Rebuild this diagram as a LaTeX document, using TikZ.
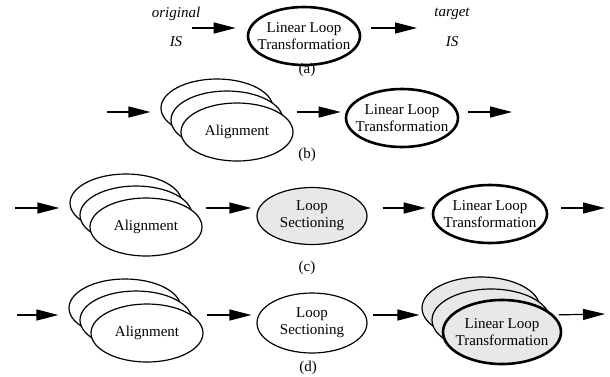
\documentclass[tikz,border=0pt]{standalone}
\usepackage{fontspec}
\setmainfont{Liberation Serif}
\usetikzlibrary{arrows.meta,shapes.geometric}

\begin{document}
\begin{tikzpicture}[
  x=1pt, y=-1pt,
  ell/.style={ellipse, draw, fill=white, line width=1.2pt, minimum width=112pt, minimum height=58pt, inner sep=0pt},
  heavy/.style={line width=2.6pt},
  dotfill/.style={fill=black!9},
  txt/.style={font=\fontsize{15}{17}\selectfont, align=center, inner sep=0pt},
  itxt/.style={txt, font=\fontsize{15}{17}\selectfont\itshape},
  arr/.style={-{Triangle[length=22pt,width=11pt]}, line width=1.2pt}
]
\useasboundingbox (0,0) rectangle (610,376);

% (a)
\node[itxt] (origt) at (176,14) {original};
\node[itxt] (origis) at (176,42) {IS};
\node[ell, heavy] (llta) at (304,36) {};
\node[txt] (lltat) at (llta) {Linear Loop\\Transformation};
\node[itxt] (targt) at (452,14) {target};
\node[itxt] (targis) at (452,42) {IS};
\node[txt] (capa) at (307,70) {(a)};
\coordinate (ina) at (192,28);
\coordinate (outa) at (417,28);
\draw[arr, shorten >=11pt] (ina) -- (llta.west |- ina);
\draw[arr, shorten <=10pt] (llta.east |- ina) -- (outa);

% (b)
\node[ell] (alignb3) at (217,108) {};
\node[ell] (alignb2) at (227,120) {};
\node[ell] (alignb) at (237,132) {};
\node[txt] (alignbt) at (alignb) {Alignment};
\node[ell, heavy] (lltb) at (402,118) {};
\node[txt] (lltbt) at (lltb) {Linear Loop\\Transformation};
\node[txt] (capb) at (307,155) {(b)};
\coordinate (inb) at (107,112);
\coordinate (outb) at (512,112);
\draw[arr, shorten >=10pt] (inb) -- (alignb3.west |- inb);
\draw[arr, shorten <=3pt, shorten >=4pt] (alignb.east |- inb) -- (lltb.west |- inb);
\draw[arr, shorten <=9pt] (lltb.east |- inb) -- (outb);

% (c)
\node[ell] (alignc3) at (126,203) {};
\node[ell] (alignc2) at (136,215) {};
\node[ell] (alignc) at (146,227) {};
\node[txt] (aligncct) at (alignc) {Alignment};
\node[ell, dotfill, minimum width=110pt, minimum height=57pt] (secc) at (312,216) {};
\node[txt] (secct) at (secc) {Loop\\Sectioning};
\node[ell, heavy, minimum width=114pt] (lltc) at (490,214) {};
\node[txt] (lltct) at (lltc) {Linear Loop\\Transformation};
\node[txt] (capc) at (307,268) {(c)};
\coordinate (inc) at (15,208);
\coordinate (outc) at (605,208);
\draw[arr, shorten >=10pt] (inc) -- (alignc3.west |- inc);
\draw[arr, shorten <=3pt, shorten >=5pt] (alignc.east |- inc) -- (secc.west |- inc);
\draw[arr, shorten <=15pt, shorten >=6pt] (secc.east |- inc) -- (lltc.west |- inc);
\draw[arr, shorten <=13pt] (lltc.east |- inc) -- (outc);

% (d)
\node[ell] (aligned3) at (125,308) {};
\node[ell] (aligned2) at (136,320) {};
\node[ell] (aligned) at (147,333) {};
\node[txt] (alignedt) at (aligned) {Alignment};
\node[ell, minimum width=110pt, minimum height=60pt] (secd) at (312,323) {};
\node[txt] (secdt) at (secd) {Loop\\Sectioning};
\node[ell, dotfill, minimum width=118pt, minimum height=62pt] (lltd3) at (481,308) {};
\node[ell, dotfill, minimum width=118pt, minimum height=62pt] (lltd2) at (491,320) {};
\node[ell, dotfill, heavy, minimum width=118pt, minimum height=64pt] (lltd) at (502,332) {};
\node[txt] (lltdt) at (lltd) {Linear Loop\\Transformation};
\node[txt] (capd) at (308,368) {(d)};
\coordinate (ind) at (17,315);
\coordinate (outd) at (605,314);
\draw[arr, shorten >=10pt] (ind) -- (aligned3.west |- ind);
\draw[arr, shorten <=3pt, shorten >=5pt] (aligned.east |- ind) -- (secd.west |- ind);
\draw[arr, shorten <=5pt, shorten >=2pt] (secd.east |- ind) -- (lltd3.west |- ind);
\draw[arr, shorten <=8pt] (lltd2.east |- ind) -- (outd);
\end{tikzpicture}
\end{document}
